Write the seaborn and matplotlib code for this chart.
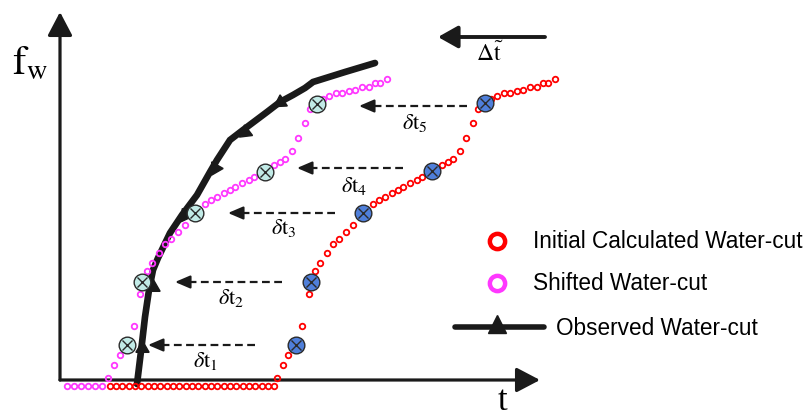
import numpy as np
import pandas as pd
import matplotlib
matplotlib.use("Agg")
import matplotlib.pyplot as plt
import seaborn as sns

sns.set_theme(style="white")
plt.rcParams["font.family"] = ["Liberation Sans", "DejaVu Sans"]
plt.rcParams["mathtext.fontset"] = "stix"
plt.rcParams["text.color"] = "black"

# initial calculated water-cut (flat part, then rising part)
init_t = [52, 58, 64, 71, 77, 83, 90, 96, 102, 109, 115, 121, 128, 134, 140, 147, 153,
          159, 166, 172, 178, 185, 191, 197, 204, 210, 216,
          219, 225, 230, 238, 244, 251, 253, 257, 262, 269, 275, 281, 288, 295, 305,
          315, 321, 327, 334, 340, 345, 352, 359, 364, 374, 384, 390, 395, 402, 408,
          415, 420, 427, 433, 439, 446, 452, 459, 465, 472, 479, 485, 490, 497]
init_fw = [0] * 27 + [8, 21, 31, 41, 60, 92, 104, 115, 123, 133, 142, 147, 154, 161, 173,
                      182, 186, 189, 193, 196, 199, 203, 206, 209, 215, 221, 224, 227, 235, 248,
                      263, 277, 283, 287, 290, 293, 293, 295, 296, 299, 299, 303, 303, 307]

# shifted water-cut
shift_t = [9, 16, 23, 30, 37, 44,
           50, 56, 62, 70, 76, 82, 85, 89, 94, 101, 107, 113, 120, 127, 137,
           147, 153, 159, 166, 172, 177, 184, 191, 196, 206, 216, 222, 227, 234, 240,
           247, 252, 259, 265, 271, 278, 284, 291, 297, 304, 311, 317, 322, 329]
shift_fw = [0] * 6 + [8, 21, 31, 41, 60, 92, 104, 115, 123, 133, 142, 147, 154, 161, 173,
                      182, 186, 189, 193, 196, 199, 203, 206, 209, 215, 221, 224, 227, 235, 248,
                      263, 277, 283, 287, 290, 293, 293, 295, 296, 299, 299, 303, 303, 307]

# matched points (blue on initial, cyan on shifted)
match_t = [238, 253, 305, 374, 427]
match_fw = [41, 104, 173, 215, 283]
matched_shift_t = [69, 84, 137, 207, 259]
matched_shift_fw = [41, 104, 173, 214, 282]

# observed water-cut
obs_t = [79, 84, 87, 91, 95, 100, 112, 124, 139, 152, 159, 172, 185, 209, 222, 235, 247, 255, 287, 317]
obs_fw = [2, 43, 69, 96, 116, 128, 153, 171, 191, 214, 226, 246, 256, 274, 284, 291, 298, 304, 314, 323]
tri_t = [84, 95, 127, 157, 187, 222]
tri_fw = [38, 99, 171, 218, 254, 284]
tri_angle = [0, 0, 145, 150, 127, 123]

# delta t arrows
dt_labels = [r"$\delta\mathrm{t}_1$", r"$\delta\mathrm{t}_2$", r"$\delta\mathrm{t}_3$",
             r"$\delta\mathrm{t}_4$", r"$\delta\mathrm{t}_5$"]
dt_fw = [41, 104, 173, 218, 280]
dt_from = [197, 224, 277, 345, 409]
dt_to = [90, 117, 170, 239, 301]
dt_lab_t = [147, 173, 226, 296, 357]
dt_lab_fw = [25, 88, 158, 200, 263]

red = "#ff0000"
magenta = "#ff38ff"

fig = plt.figure(figsize=(8.08, 4.19), dpi=100)
ax = fig.add_axes([0, 0, 1, 1])
ax.set_xlim(-58, 750)
ax.set_ylim(-33, 386)
ax.axis("off")

# axes arrows
ax.annotate("", xy=(2, 374), xytext=(2, 6),
            arrowprops=dict(arrowstyle="-|>,head_length=0.8,head_width=0.42", lw=2.3, color="k",
                            mutation_scale=18, shrinkA=0, shrinkB=0))
ax.annotate("", xy=(482, 6), xytext=(2, 6),
            arrowprops=dict(arrowstyle="-|>,head_length=0.8,head_width=0.42", lw=2.3, color="k",
                            mutation_scale=18, shrinkA=0, shrinkB=0))
ax.text(-28, 323, r"$\mathrm{f}_\mathrm{w}$", fontsize=29, ha="center", va="center")
ax.text(444, -24, "t", fontsize=25, family="Liberation Serif", ha="center", va="baseline")

# observed line
sns.lineplot(x=obs_t, y=obs_fw, sort=False, estimator=None, color="k", lw=4.8,
             solid_joinstyle="miter", ax=ax, zorder=2)
for t, f, a in zip(tri_t, tri_fw, tri_angle):
    ax.plot(t, f, marker=(3, 0, a), ms=11, color="k", zorder=2)

# water-cut curves
sns.lineplot(x=init_t, y=init_fw, sort=False, estimator=None, linestyle="", marker="o",
             markersize=4, markerfacecolor="none", markeredgecolor=red,
             markeredgewidth=1.3, ax=ax, zorder=3)
sns.lineplot(x=shift_t, y=shift_fw, sort=False, estimator=None, linestyle="", marker="o",
             markersize=4, markerfacecolor="none", markeredgecolor=magenta,
             markeredgewidth=1.3, ax=ax, zorder=3)

# matched points
for xs, ys, fc in [(match_t, match_fw, "#4f7fda"), (matched_shift_t, matched_shift_fw, "#c2ebe7")]:
    ax.plot(xs, ys, "o", ms=12, mfc=fc, mec="#2b2b2b", mew=1.0, zorder=4)
    ax.plot(xs, ys, "x", ms=7, mec="#2b2b2b", mew=1.0, zorder=5)

# delta t arrows
for lab, y, x0, x1, lx, ly in zip(dt_labels, dt_fw, dt_from, dt_to, dt_lab_t, dt_lab_fw):
    ax.plot([x0, x1 + 8], [y, y], color="k", lw=1.6, dashes=(3.5, 2), zorder=2)
    ax.annotate("", xy=(x1, y), xytext=(x1 + 14, y),
                arrowprops=dict(arrowstyle="-|>,head_length=0.7,head_width=0.3", lw=1.6,
                                color="k", mutation_scale=13, shrinkA=0, shrinkB=0))
    ax.text(lx, ly, lab, fontsize=16, ha="center", va="center")

ax.annotate("", xy=(380, 349), xytext=(487, 349),
            arrowprops=dict(arrowstyle="-|>,head_length=0.8,head_width=0.45", lw=2.8, color="k",
                            mutation_scale=15, shrinkA=0, shrinkB=0))
ax.text(432, 332, r"$\Delta\tilde{\mathrm{t}}$", fontsize=17, ha="center", va="center")

# legend
ax.plot(439, 145, "o", ms=11, mfc="none", mec=red, mew=3.2)
ax.text(475, 145, "Initial Calculated Water-cut", fontsize=16.3, va="center")
ax.plot(439, 103, "o", ms=11, mfc="none", mec=magenta, mew=3.2)
ax.text(475, 102, "Shifted Water-cut", fontsize=16.3, va="center")
ax.plot([397, 486], [59, 59], color="k", lw=4)
ax.plot(439, 62, "^", ms=13, color="k")
ax.text(498, 58, "Observed Water-cut", fontsize=16.3, va="center")

fig.savefig("out.png", dpi=100)
